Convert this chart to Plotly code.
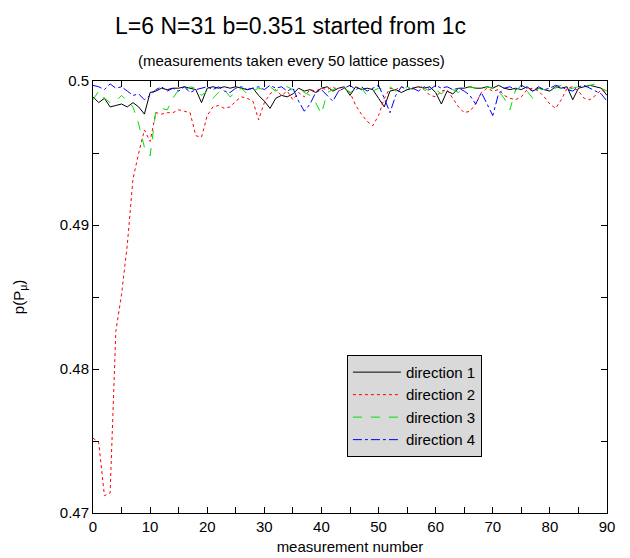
import plotly.graph_objects as go

measurement = list(range(91))

direction_1 = [
    0.4989, 0.4985, 0.4988, 0.4982, 0.4983, 0.4984, 0.4982, 0.4985, 0.4982, 0.4977,
    0.4992, 0.4993, 0.4995, 0.4994, 0.4995, 0.4995, 0.4996, 0.4995, 0.4994, 0.4985,
    0.4995, 0.4996, 0.4995, 0.4996, 0.4995, 0.4996, 0.4995, 0.4994, 0.4995, 0.4990,
    0.4986, 0.4981, 0.4988, 0.4990, 0.4989, 0.4991, 0.4995, 0.4993, 0.4994, 0.4992,
    0.4995, 0.4996, 0.4993, 0.4995, 0.4996, 0.4990, 0.4996, 0.4994, 0.4995, 0.4994,
    0.4988, 0.4982, 0.4993, 0.4994, 0.4992, 0.4994, 0.4995, 0.4996, 0.4995, 0.4996,
    0.4992, 0.4984, 0.4993, 0.4991, 0.4995, 0.4995, 0.4996, 0.4995, 0.4995, 0.4996,
    0.4995, 0.4997, 0.4995, 0.4994, 0.4995, 0.4994, 0.4996, 0.4993, 0.4995, 0.4994,
    0.4993, 0.4996, 0.4995, 0.4996, 0.4987, 0.4995, 0.4996, 0.4997, 0.4996, 0.4995,
    0.4990,
]

direction_2 = [
    0.4752, 0.4749, 0.4712, 0.4714, 0.4826, 0.4852, 0.4886, 0.4932, 0.4950, 0.4966,
    0.4958, 0.4978, 0.4977, 0.4978, 0.4978, 0.4980, 0.4979, 0.4978, 0.4962, 0.4961,
    0.4976, 0.4982, 0.4983, 0.4981, 0.4982, 0.4986, 0.4989, 0.4988, 0.4986, 0.4973,
    0.4985, 0.4991, 0.4994, 0.4990, 0.4993, 0.4987, 0.4992, 0.4989, 0.4994, 0.4993,
    0.4995, 0.4994, 0.4996, 0.4993, 0.4995, 0.4992, 0.4983, 0.4977, 0.4972, 0.4969,
    0.4976, 0.4988, 0.4995, 0.4994, 0.4996, 0.4994, 0.4995, 0.4996, 0.4994, 0.4990,
    0.4989, 0.4993, 0.4994, 0.4988, 0.4982, 0.4978, 0.4979, 0.4984, 0.4992, 0.4995,
    0.4993, 0.4994, 0.4990, 0.4988, 0.4987, 0.4989, 0.4994, 0.4995, 0.4993, 0.4989,
    0.4984, 0.4981, 0.4987, 0.4995, 0.4996, 0.4993, 0.4988, 0.4987, 0.4990, 0.4994,
    0.4992,
]

direction_3 = [
    0.4987, 0.4993, 0.4988, 0.4985, 0.4986, 0.4990, 0.4986, 0.4982, 0.4970, 0.4954,
    0.4948, 0.4979, 0.4981, 0.4980, 0.4988, 0.4994, 0.4993, 0.4996, 0.4995, 0.4990,
    0.4993, 0.4988, 0.4992, 0.4994, 0.4989, 0.4992, 0.4995, 0.4991, 0.4993, 0.4995,
    0.4994, 0.4996, 0.4993, 0.4995, 0.4996, 0.4994, 0.4995, 0.4992, 0.4990, 0.4985,
    0.4977, 0.4992, 0.4994, 0.4996, 0.4995, 0.4992, 0.4994, 0.4995, 0.4990, 0.4993,
    0.4995, 0.4994, 0.4996, 0.4993, 0.4995, 0.4996, 0.4994, 0.4997, 0.4995, 0.4993,
    0.4994, 0.4991, 0.4995, 0.4994, 0.4992, 0.4995, 0.4996, 0.4995, 0.4994, 0.4996,
    0.4995, 0.4993, 0.4988, 0.4980, 0.4994, 0.4996, 0.4993, 0.4988, 0.4995, 0.4994,
    0.4996, 0.4995, 0.4997, 0.4994, 0.4995, 0.4996, 0.4995, 0.4997, 0.4998, 0.4995,
    0.4993,
]

direction_4 = [
    0.4997, 0.4996, 0.4994, 0.4998, 0.4995, 0.4996, 0.4993, 0.4990, 0.4991, 0.4987,
    0.4990, 0.4994, 0.4996, 0.4993, 0.4995, 0.4993, 0.4996, 0.4992, 0.4994, 0.4995,
    0.4996, 0.4994, 0.4996, 0.4993, 0.4992, 0.4995, 0.4996, 0.4994, 0.4995, 0.4996,
    0.4994, 0.4997, 0.4995, 0.4996, 0.4993, 0.4995, 0.4986, 0.4979, 0.4984, 0.4992,
    0.4994, 0.4990, 0.4986, 0.4993, 0.4995, 0.4997, 0.4994, 0.4996, 0.4993, 0.4995,
    0.4997, 0.4988, 0.4978, 0.4990, 0.4996, 0.4994, 0.4995, 0.4993, 0.4996, 0.4994,
    0.4997, 0.4995, 0.4996, 0.4994, 0.4995, 0.4993, 0.4990, 0.4984, 0.4992, 0.4984,
    0.4976, 0.4991, 0.4995, 0.4996, 0.4994, 0.4997, 0.4995, 0.4993, 0.4996, 0.4994,
    0.4995, 0.4997, 0.4996, 0.4994, 0.4993, 0.4996, 0.4997, 0.4995, 0.4993, 0.4991,
    0.4986,
]

series_names = ["direction 1", "direction 2", "direction 3", "direction 4"]
x_tick_vals = [0, 10, 20, 30, 40, 50, 60, 70, 80, 90]
y_tick_vals = [0.47, 0.48, 0.49, 0.5]
y_tick_text = ["0.47", "0.48", "0.49", "0.5"]

FONT = "Liberation Sans, Arial, sans-serif"

styles = [
    dict(color="#000000", dash="solid"),
    dict(color="#ff0000", dash="dot"),
    dict(color="#00e000", dash="dash"),
    dict(color="#0000ff", dash="dashdot"),
]

fig = go.Figure()
for name, ys, st in zip(series_names, [direction_1, direction_2, direction_3, direction_4], styles):
    fig.add_trace(go.Scatter(
        x=measurement, y=ys, mode="lines", name=name,
        line=dict(color=st["color"], dash=st["dash"], width=1),
    ))

axis_common = dict(
    showgrid=False, zeroline=False, showline=True, linecolor="#000000", linewidth=1,
    mirror="ticks", ticks="inside", ticklen=6, tickcolor="#000000", automargin=False,
    tickfont=dict(family=FONT, size=15, color="#000000"),
)

fig.update_layout(
    width=630, height=558,
    paper_bgcolor="white", plot_bgcolor="white",
    margin=dict(l=93, r=23, t=81, b=45, autoexpand=False),
    showlegend=True,
    font=dict(family=FONT, color="#000000"),
    xaxis=dict(
        range=[0, 90], tickvals=x_tick_vals,
        minor=dict(dtick=5, ticks="inside", ticklen=6, tickcolor="#000000"),
        title=dict(text="measurement number", font=dict(family=FONT, size=15), standoff=7),
        **axis_common,
    ),
    yaxis=dict(
        range=[0.47, 0.5], tickvals=y_tick_vals, ticktext=y_tick_text,
        minor=dict(dtick=0.005, ticks="inside", ticklen=6, tickcolor="#000000"),
        title=dict(text="p(P<sub>μ</sub>)", font=dict(family=FONT, size=15), standoff=31),
        **axis_common,
    ),
    legend=dict(
        x=0.494, y=0.366, xanchor="left", yanchor="top",
        bgcolor="#d9d9d9", bordercolor="#000000", borderwidth=1,
        font=dict(family=FONT, size=15, color="#000000"),
        tracegroupgap=0, itemwidth=48,
        entrywidth=88, entrywidthmode="pixels",
    ),
    annotations=[
        dict(text="L=6 N=31 b=0.351 started from 1c", xref="paper", yref="paper",
             x=(290 - 93) / 514, y=1, yshift=55, showarrow=False, xanchor="center", yanchor="middle",
             font=dict(family=FONT, size=23, color="#000000")),
        dict(text="(measurements taken every 50 lattice passes)", xref="paper", yref="paper",
             x=(291 - 93) / 514, y=1, yshift=21, showarrow=False, xanchor="center", yanchor="middle",
             font=dict(family=FONT, size=15, color="#000000")),
    ],
)

fig.write_html(
    "out.html",
    config={"displayModeBar": False},
    post_script="document.body.style.margin='0px';document.body.style.overflow='hidden';",
)
